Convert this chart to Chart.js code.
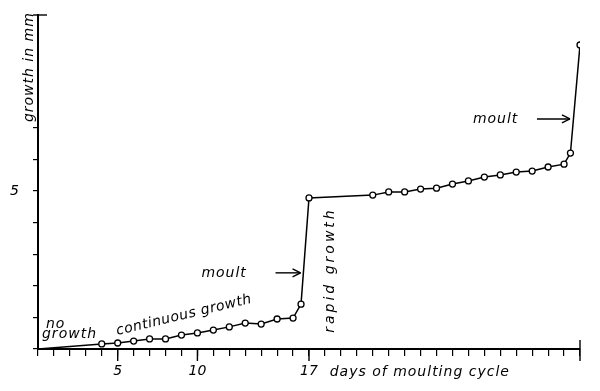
<!DOCTYPE html>
<html>
<head>
<meta charset="utf-8">
<script src="https://cdn.jsdelivr.net/npm/chart.js@4.4.0/dist/chart.umd.min.js"></script>
<style>
  html, body { margin: 0; padding: 0; background: #fff; }
</style>
</head>
<body>
<canvas id="myChart" width="600" height="391"></canvas>
<script>
// days of the moulting cycle and growth (mm)
const days = [0, 4, 5, 6, 7, 8, 9, 10, 11, 12, 13, 14, 15, 16, 16.5, 17,
              21, 22, 23, 24, 25, 26, 27, 28, 29, 30, 31, 32, 33, 33.4, 34];
const growth = [0, 0.16, 0.19, 0.25, 0.32, 0.32, 0.44, 0.51, 0.60, 0.70, 0.82, 0.79, 0.95, 0.98, 1.42, 4.78,
                4.87, 4.97, 4.97, 5.06, 5.09, 5.22, 5.32, 5.44, 5.51, 5.60, 5.63, 5.76, 5.85, 6.20, 9.62];

const xLabelled = [5, 10, 17];
const yLabelled = [5];
const yTicks = [0, 1, 2, 3, 4, 5, 6, 7];
const xMax = 34;
const yMax = 10.57;

const FONT = 'italic 14px "DejaVu Sans"';

// text notes, placed in data units
const notes = [
    { text: 'no', x: 0.5, y: 0.66 },
    { text: 'growth', x: 0.25, y: 0.35 },
    { text: 'continuous growth', x: 4.97, y: 0.44, angle: -13.5, spacing: 0.5 },
    { text: 'moult', x: 10.25, y: 2.28 },
    { text: 'moult', x: 27.28, y: 7.15 },
    { text: 'rapid growth', x: 18.35, y: 2.5, angle: -90, center: true, spacing: 3 },
    { text: 'days of moulting cycle', x: 18.3, y: -0.86 },
    { text: 'growth in mm', x: -0.57, y: 8.92, angle: -90, center: true },
];
const arrows = [
    { from: 14.9, to: 16.47, y: 2.41 },
    { from: 31.3, to: 33.37, y: 7.28 },
];

const extras = {
    id: 'extras',
    afterDraw(chart) {
        const { ctx, scales: { x, y } } = chart;
        const px = v => x.getPixelForValue(v);
        const py = v => y.getPixelForValue(v);
        const line = (x1, y1, x2, y2) => {
            ctx.beginPath(); ctx.moveTo(x1, y1); ctx.lineTo(x2, y2); ctx.stroke();
        };
        ctx.save();
        ctx.strokeStyle = '#000';
        ctx.fillStyle = '#000';
        ctx.lineWidth = 1.4;
        // longer ticks at the labelled days
        xLabelled.forEach(d => line(px(d), py(0), px(d), py(0) + 12));
        // end of the x axis and top of the y axis
        line(px(xMax), py(0) - 9, px(xMax), py(0) + 12);
        line(px(0) - 5, py(yMax), px(0) + 9, py(yMax));

        arrows.forEach(a => {
            const x1 = px(a.from), x2 = px(a.to), yy = py(a.y);
            line(x1, yy, x2, yy);
            line(x2, yy, x2 - 8, yy - 4);
            line(x2, yy, x2 - 8, yy + 4);
        });

        ctx.font = FONT;
        notes.forEach(n => {
            ctx.save();
            ctx.letterSpacing = (n.spacing ?? 1) + 'px';
            ctx.translate(px(n.x), py(n.y));
            if (n.angle) ctx.rotate(n.angle * Math.PI / 180);
            ctx.textAlign = n.center ? 'center' : 'left';
            ctx.textBaseline = n.center ? 'middle' : 'alphabetic';
            ctx.fillText(n.text, 0, 0);
            ctx.restore();
        });
        ctx.restore();
    }
};

const data = {
    datasets: [{
        label: 'growth',
        data: days.map((d, i) => ({ x: d, y: growth[i] })),
        borderColor: '#000',
        borderWidth: 1.5,
        backgroundColor: '#fff',
        pointBackgroundColor: '#fff',
        pointBorderColor: '#000',
        pointBorderWidth: 1.3,
        pointRadius: days.map((d, i) => i === 0 ? 0 : 3),
        tension: 0,
    }]
};

const config = {
    type: 'line',
    data: data,
    options: {
        responsive: false,
        animation: false,
        layout: { padding: { top: 15, right: 20, left: 0, bottom: 0 } },
        plugins: { legend: { display: false }, tooltip: { enabled: false } },
        scales: {
            x: {
                type: 'linear',
                min: 0,
                max: xMax,
                afterBuildTicks: s => { s.ticks = Array.from({ length: xMax + 1 }, (_, i) => ({ value: i })); },
                afterFit: s => { s.height = 42; s.paddingLeft = 0; s.paddingRight = 0; },
                border: { color: '#000', width: 2 },
                grid: { drawOnChartArea: false, color: '#000', lineWidth: 1.2, tickLength: 7 },
                ticks: {
                    autoSkip: false,
                    maxRotation: 0,
                    padding: 7,
                    color: '#000',
                    font: { family: 'DejaVu Sans', size: 14, style: 'italic' },
                    callback: v => xLabelled.includes(v) ? String(v) : ''
                }
            },
            y: {
                type: 'linear',
                min: 0,
                max: yMax,
                afterBuildTicks: s => { s.ticks = yTicks.map(v => ({ value: v })); },
                afterFit: s => { s.width = 38; s.paddingTop = 0; s.paddingBottom = 0; },
                border: { color: '#000', width: 2 },
                grid: { drawOnChartArea: false, color: '#000', lineWidth: 1.2, tickLength: 5 },
                ticks: {
                    padding: 14,
                    color: '#000',
                    font: { family: 'DejaVu Sans', size: 14, style: 'italic' },
                    callback: v => yLabelled.includes(v) ? String(v) : ''
                }
            }
        }
    },
    plugins: [extras]
};

const myChart = new Chart(document.getElementById('myChart'), config);
</script>
</body>
</html>
